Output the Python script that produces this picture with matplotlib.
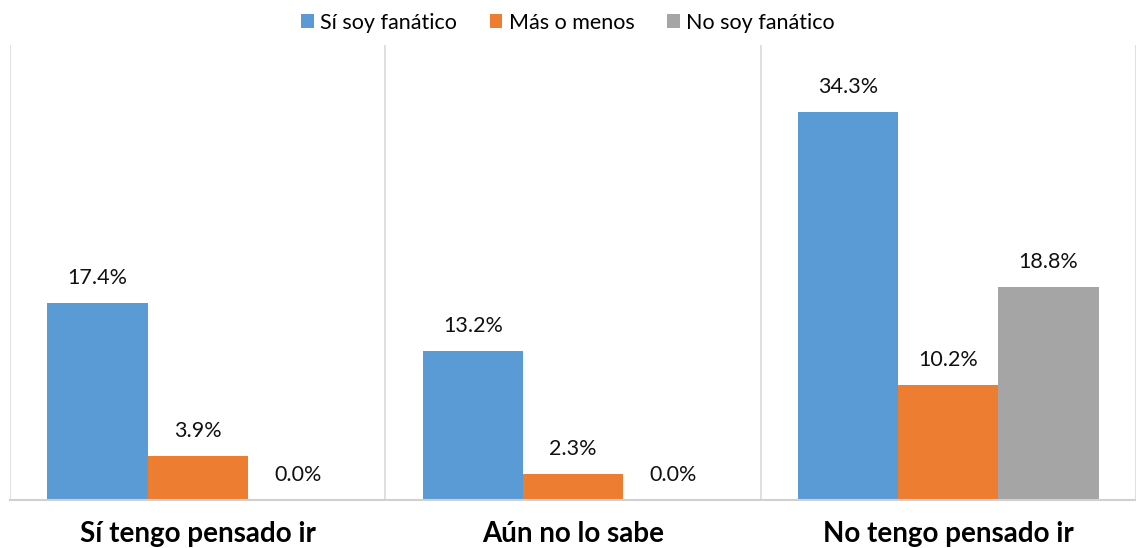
import numpy as np
import matplotlib.pyplot as plt
from matplotlib.patches import Patch

plt.rcParams['font.family'] = ['Lato', 'DejaVu Sans']

categories = ["Sí tengo pensado ir", "Aún no lo sabe", "No tengo pensado ir"]
series_names = ["Sí soy fanático", "Más o menos", "No soy fanático"]
si_fanatico = [17.4, 13.2, 34.3]
mas_o_menos = [3.9, 2.3, 10.2]
no_fanatico = [0.0, 0.0, 18.8]

colors = ["#5b9bd5", "#ed7d31", "#a5a5a5"]
series = [si_fanatico, mas_o_menos, no_fanatico]

fig = plt.figure(figsize=(11.36, 5.48), dpi=100)
ax = fig.add_axes([10 / 1136, 1 - 500 / 548, 1126 / 1136, (500 - 45) / 548])

x = np.arange(len(categories))
w = 0.267
for i, (vals, col) in enumerate(zip(series, colors)):
    pos = x + (i - 1) * w
    ax.bar(pos, vals, width=w, color=col, label=series_names[i], zorder=2)
    for p, v in zip(pos, vals):
        ax.text(p, v + 1.3, "{:.1f}%".format(v), ha='center', va='bottom',
                fontsize=15.5, color='#111111')

ax.set_xlim(-0.5, len(categories) - 0.5)
ax.set_ylim(0, 40.2)
ax.set_yticks([])
ax.set_xticks(x)
ax.set_xticklabels(categories, fontsize=20, fontweight='bold')
ax.tick_params(axis='x', length=0, pad=15)

for s in ['top', 'right', 'left']:
    ax.spines[s].set_visible(False)
ax.spines['bottom'].set_color('#d0d0d0')
ax.spines['bottom'].set_linewidth(1.5)

# group separators
for b in np.arange(-0.5, len(categories), 1.0):
    ax.axvline(b, color='#d9d9d9', linewidth=1.2, zorder=1)

handles = [Patch(facecolor=c, label=n) for c, n in zip(colors, series_names)]
fig.legend(handles=handles, loc='upper center', bbox_to_anchor=(0.5, 1.012),
           ncol=3, frameon=False, fontsize=15.5, handlelength=0.6,
           handleheight=0.6, handletextpad=0.3, columnspacing=1.5)

fig.savefig("out.png", dpi=100)
